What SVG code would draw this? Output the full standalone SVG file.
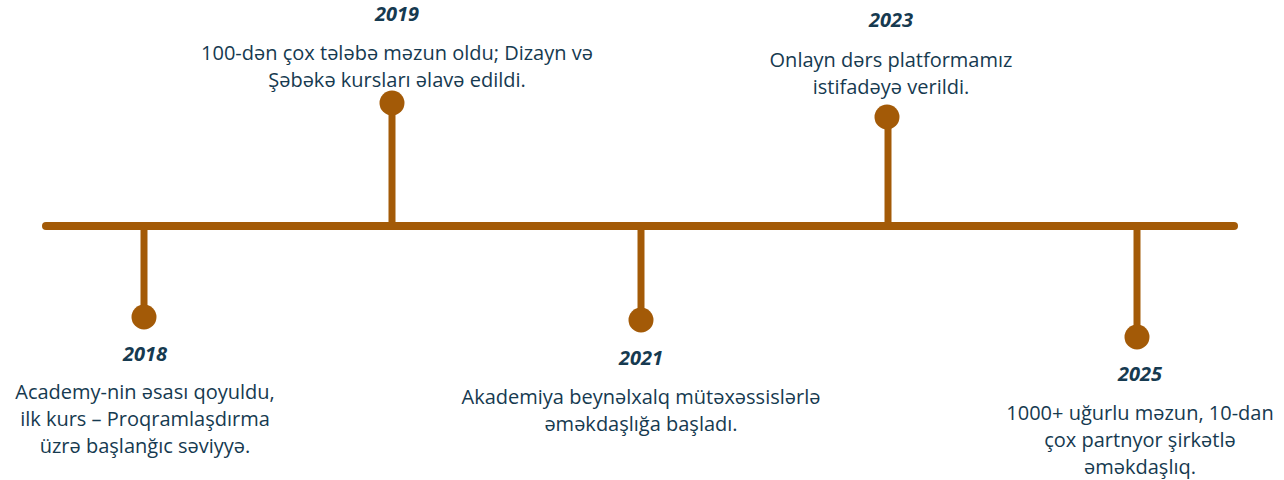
<svg xmlns="http://www.w3.org/2000/svg" width="1284" height="480" viewBox="0 0 1284 480">
<style>
.line{stroke:#a35a07;stroke-width:8;stroke-linecap:round;fill:none}
.stem{stroke:#a35a07;stroke-width:7;fill:none}
.dot{fill:#a35a07}
.yr{font-family:"Open Sans","Liberation Sans",sans-serif;font-size:20px;font-weight:bold;font-style:italic;fill:#163a50;text-anchor:middle}
.tx{font-family:"Open Sans","Liberation Sans",sans-serif;font-size:20px;fill:#163a50;text-anchor:middle}
</style>
<rect width="1284" height="480" fill="#ffffff"/>
<g id="connectors">
<line class="line" x1="46" y1="226" x2="1234" y2="226"/>
<line class="stem" x1="144" y1="226" x2="144" y2="317"/>
<line class="stem" x1="392" y1="103" x2="392" y2="226"/>
<line class="stem" x1="641" y1="226" x2="641" y2="320"/>
<line class="stem" x1="888" y1="117" x2="888" y2="226"/>
<line class="stem" x1="1137" y1="226" x2="1137" y2="337"/>
</g>
<g id="n2018">
<circle class="dot" cx="144" cy="317" r="12.5"/>
<text class="yr" x="145" y="361">2018</text>
<text class="tx" x="145" y="399">Academy-nin əsası qoyuldu,</text>
<text class="tx" x="145" y="426">ilk kurs – Proqramlaşdırma</text>
<text class="tx" x="145" y="453">üzrə başlanğıc səviyyə.</text>
</g>
<g id="n2019">
<circle class="dot" cx="392" cy="103" r="12.5"/>
<text class="yr" x="397" y="21">2019</text>
<text class="tx" x="397" y="60">100-dən çox tələbə məzun oldu; Dizayn və</text>
<text class="tx" x="397" y="87">Şəbəkə kursları əlavə edildi.</text>
</g>
<g id="n2021">
<circle class="dot" cx="641" cy="320" r="12.5"/>
<text class="yr" x="641" y="365">2021</text>
<text class="tx" x="641" y="404">Akademiya beynəlxalq mütəxəssislərlə</text>
<text class="tx" x="641" y="431">əməkdaşlığa başladı.</text>
</g>
<g id="n2023">
<circle class="dot" cx="887" cy="117" r="12.5"/>
<text class="yr" x="891" y="27">2023</text>
<text class="tx" x="891" y="67">Onlayn dərs platformamız</text>
<text class="tx" x="891" y="94">istifadəyə verildi.</text>
</g>
<g id="n2025">
<circle class="dot" cx="1137" cy="337" r="12.5"/>
<text class="yr" x="1140" y="381">2025</text>
<text class="tx" x="1140" y="420">1000+ uğurlu məzun, 10-dan</text>
<text class="tx" x="1140" y="447">çox partnyor şirkətlə</text>
<text class="tx" x="1140" y="474">əməkdaşlıq.</text>
</g>
</svg>
